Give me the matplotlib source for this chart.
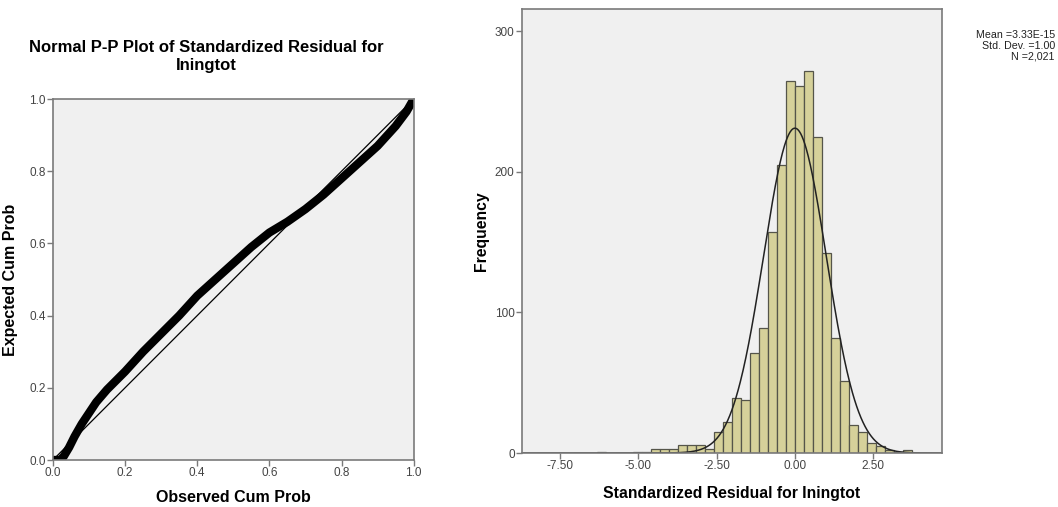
import numpy as np
import matplotlib
matplotlib.use("Agg")
import matplotlib.pyplot as plt

plt.rcParams['font.family'] = ['Liberation Sans', 'DejaVu Sans']

# P-P plot, points
obs_cum = [0.0, 0.02, 0.03, 0.045, 0.06, 0.08, 0.10, 0.12, 0.15, 0.18, 0.20, 0.25, 0.30,
           0.35, 0.40, 0.45, 0.50, 0.55, 0.60, 0.65, 0.70, 0.75, 0.80, 0.85, 0.90,
           0.95, 0.98, 1.0]
exp_cum = [0.0, 0.0, 0.01, 0.035, 0.065, 0.10, 0.13, 0.16, 0.195, 0.225, 0.245, 0.30, 0.35,
           0.40, 0.455, 0.50, 0.545, 0.59, 0.63, 0.66, 0.695, 0.735, 0.78, 0.825, 0.87,
           0.925, 0.965, 1.0]

# histogram of standardized residuals
bin_width = 0.2866
bin_index = [-22, -18, -17, -16, -15, -14, -13, -12, -11, -10, -9, -8, -7, -6, -5, -4, -3,
             -2, -1, 0, 1, 2, 3, 4, 5, 6, 7, 8, 9, 10, 11, 12]
counts = [1, 1, 1, 3, 3, 3, 6, 6, 6, 3, 15, 22, 39, 38, 71, 89, 157,
          205, 265, 261, 272, 225, 142, 82, 51, 20, 15, 7, 5, 2, 1, 2]
mean, std, n = 0.0, 1.00, 2021
stats_text = "Mean =3.33E-15\nStd. Dev. =1.00\nN =2,021"

bg = '#f0f0f0'
bar_color = '#d6d19a'
edge = '#55554a'
spine_color = '#7a7a7a'
tick_color = '#444444'

fig = plt.figure(figsize=(10.58, 5.07), dpi=100)

# ---- left: P-P plot
ax1 = fig.add_axes([0.050, 0.0927, 0.341, 0.712])
ax1.set_facecolor(bg)
ax1.plot([0, 1], [0, 1], color='black', lw=0.9)
ax1.plot(obs_cum, exp_cum, color='black', lw=6, solid_capstyle='round', solid_joinstyle='round')
ax1.set_xlim(0, 1)
ax1.set_ylim(0, 1)
ax1.set_xticks(np.arange(0, 1.01, 0.2))
ax1.set_yticks(np.arange(0, 1.01, 0.2))
ax1.xaxis.set_major_formatter(matplotlib.ticker.FormatStrFormatter('%.1f'))
ax1.yaxis.set_major_formatter(matplotlib.ticker.FormatStrFormatter('%.1f'))
ax1.set_xlabel('Observed Cum Prob', fontsize=11.5, fontweight='bold', labelpad=8)
ax1.set_ylabel('Expected Cum Prob', fontsize=11.5, fontweight='bold', labelpad=8)
ax1.set_title('Normal P-P Plot of Standardized Residual for\nIningtot',
              fontsize=12, fontweight='bold', pad=21, linespacing=1.2, x=0.424)

# ---- right: histogram
ax2 = fig.add_axes([0.493, 0.1065, 0.397, 0.875])
ax2.set_facecolor(bg)
lefts = [k * bin_width for k in bin_index]
ax2.bar(lefts, counts, width=bin_width, align='edge', color=bar_color,
        edgecolor=edge, linewidth=0.9)
xs = np.linspace(-8.7, 4.7, 600)
ax2.plot(xs, n * bin_width * np.exp(-0.5 * ((xs - mean) / std) ** 2) / (std * np.sqrt(2 * np.pi)),
         color='#222222', lw=1.1)
ax2.set_xlim(-8.72, 4.68)
ax2.set_ylim(0, 315.6)
ax2.set_xticks([-7.5, -5.0, -2.5, 0.0, 2.5])
ax2.xaxis.set_major_formatter(matplotlib.ticker.FormatStrFormatter('%.2f'))
ax2.set_yticks([0, 100, 200, 300])
ax2.set_xlabel('Standardized Residual for Iningtot', fontsize=11.3, fontweight='bold', labelpad=10)
ax2.set_ylabel('Frequency', fontsize=11.3, fontweight='bold', labelpad=4)
fig.text(0.997, 0.94, stats_text, ha='right', va='top', fontsize=7.7,
         color='#222222', multialignment='right', linespacing=1.05)

for ax in (ax1, ax2):
    for s in ax.spines.values():
        s.set_color(spine_color)
        s.set_linewidth(1.2)
    ax.tick_params(direction='out', length=4, width=1, color=spine_color,
                   labelsize=8.5, labelcolor=tick_color, pad=1)

fig.savefig('out.png', dpi=100, facecolor='white')
